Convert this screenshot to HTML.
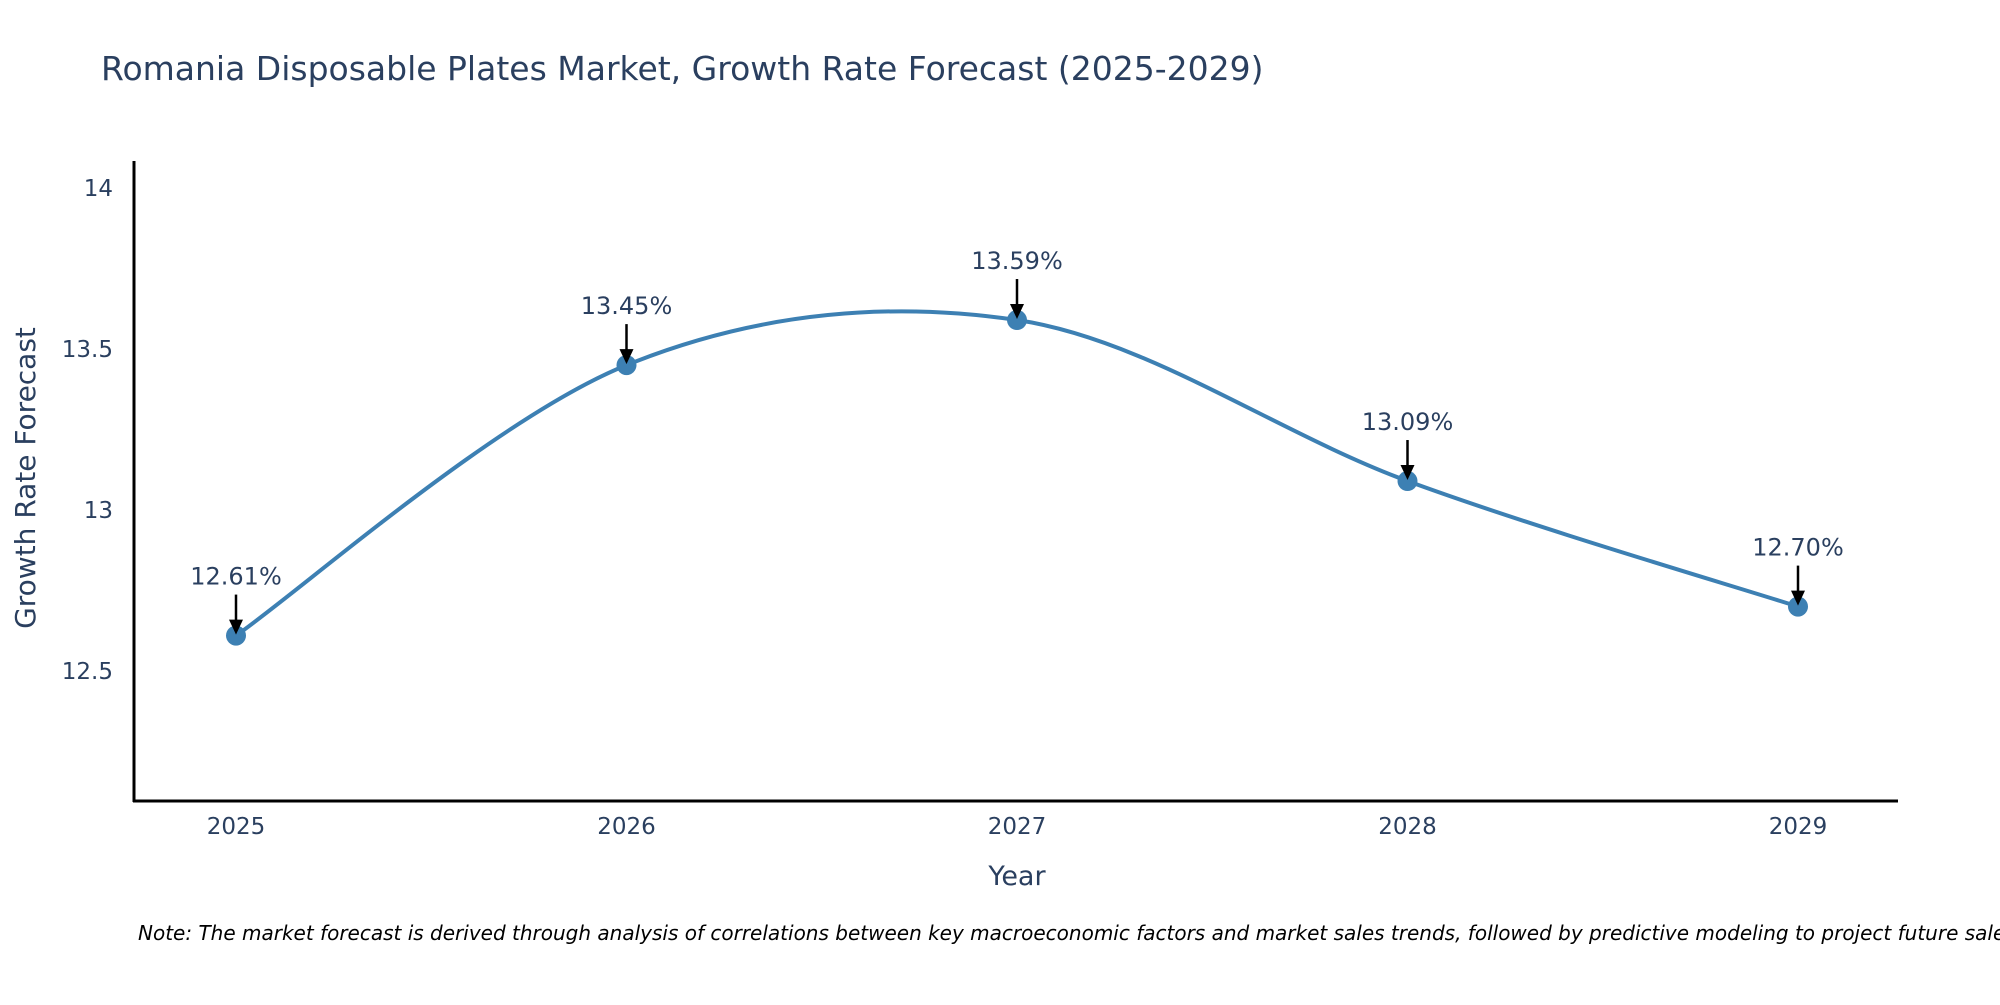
<!DOCTYPE html>
<html><head><meta charset="utf-8"><style>
body{margin:0;background:#fff;width:2000px;height:1000px;overflow:hidden}
svg{font-family:"DejaVu Sans","Liberation Sans",sans-serif}
</style></head><body>
<svg id="chart" width="2000" height="1000">
<text x="101" y="80" font-size="33" fill="#2a3f5f">Romania Disposable Plates Market, Growth Rate Forecast (2025-2029)</text>
<g id="yticks"></g><g id="xticks"></g>
<line x1="134" y1="161" x2="134" y2="802" stroke="#000" stroke-width="3"/>
<line x1="133" y1="801" x2="1898" y2="801" stroke="#000" stroke-width="3"/>
<text transform="translate(35,478) rotate(-90)" text-anchor="middle" font-size="28" fill="#2a3f5f">Growth Rate Forecast</text>
<text x="1017" y="885" text-anchor="middle" font-size="27" fill="#2a3f5f">Year</text>
<text x="138" y="940" font-size="20" font-style="italic" fill="#000">Note: The market forecast is derived through analysis of correlations between key macroeconomic factors and market sales trends, followed by predictive modeling to project future sales.</text>
<g id="series"></g>
</svg>
<script>
const years = [2025, 2026, 2027, 2028, 2029];
const values = [12.61, 13.45, 13.59, 13.09, 12.70];
const labels = ["12.61%", "13.45%", "13.59%", "13.09%", "12.70%"];
const yTicks = [12.5, 13, 13.5, 14];
const NS = "http://www.w3.org/2000/svg";
function xs(yr){return 236 + (yr - 2025) * 390.5;}
function ys(v){return 510 - (v - 13) * 322;}
function mk(tag, attrs, parent){const e=document.createElementNS(NS,tag);for(const k in attrs)e.setAttribute(k,attrs[k]);parent.appendChild(e);return e;}
const yt=document.getElementById('yticks'), xt=document.getElementById('xticks'), sg=document.getElementById('series');
yTicks.forEach(t=>{
  const e=mk('text',{x:113,y:ys(t)+8,'text-anchor':'end','font-size':23,fill:'#2a3f5f'},yt);
  
  
  e.textContent=String(t);
});
years.forEach(y=>{
  const e=mk('text',{x:xs(y),y:834,'text-anchor':'middle','font-size':23,fill:'#2a3f5f'},xt);
  
  
  e.textContent=String(y);
});
const P=years.map((y,i)=>[xs(y),ys(values[i])]);
let d='M'+P[0][0]+','+P[0][1];
for(let i=0;i<P.length-1;i++){
  const p0=P[Math.max(i-1,0)],p1=P[i],p2=P[i+1],p3=P[Math.min(i+2,P.length-1)];
  const t=1/6;
  const c1=[p1[0]+(p2[0]-p0[0])*t,p1[1]+(p2[1]-p0[1])*t];
  const c2=[p2[0]-(p3[0]-p1[0])*t,p2[1]-(p3[1]-p1[1])*t];
  d+=' C'+c1[0]+','+c1[1]+' '+c2[0]+','+c2[1]+' '+p2[0]+','+p2[1];
}
const line=mk('path',{d:d,fill:'none',stroke:'#3d80b3','stroke-width':4},sg);


P.forEach((p,i)=>{
  const c=mk('circle',{cx:p[0],cy:p[1],r:10,fill:'#3d80b3'},sg);
  
  
  const a=mk('line',{x1:p[0],y1:p[1]-41,x2:p[0],y2:p[1]-14,stroke:'#000','stroke-width':2.5},sg);
  
  
  const h=mk('polygon',{points:(p[0]-7)+','+(p[1]-16)+' '+(p[0]+7)+','+(p[1]-16)+' '+p[0]+','+(p[1]-1),fill:'#000'},sg);
  
  
  const t=mk('text',{x:p[0],y:p[1]-51,'text-anchor':'middle','font-size':24,fill:'#2a3f5f'},sg);
  
  
  t.textContent=labels[i];
});
</script>
</body></html>
